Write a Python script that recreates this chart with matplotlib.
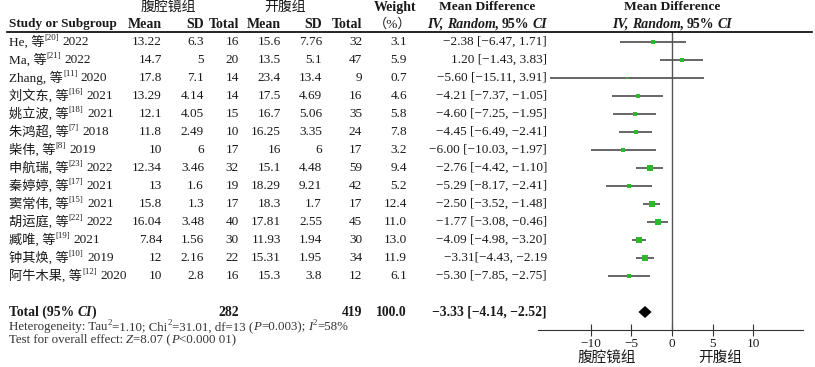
import matplotlib
matplotlib.use('Agg')
import matplotlib.pyplot as plt
from matplotlib.lines import Line2D

plt.rcParams['font.family'] = ['Liberation Serif', 'Noto Sans CJK SC']
plt.rcParams['font.size'] = 9.5

# --- données ---
authors = ['He', 'Ma', 'Zhang', '刘文东', '姚立波', '朱鸿超', '柴伟', '申航瑞',
           '秦婷婷', '窦常伟', '胡运庭', '臧唯', '钟其焕', '阿牛木果']
refs = ['20', '21', '11', '16', '18', '7', '8', '23', '17', '15', '22', '19', '10', '12']
years = [2022, 2022, 2020, 2021, 2021, 2018, 2019, 2022, 2021, 2021, 2022, 2021, 2019, 2020]

lap_mean = [13.22, 14.7, 17.8, 13.29, 12.1, 11.8, 10, 12.34, 13, 15.8, 16.04, 7.84, 12, 10]
lap_sd = [6.3, 5, 7.1, 4.14, 4.05, 2.49, 6, 3.46, 1.6, 1.3, 3.48, 1.56, 2.16, 2.8]
lap_n = [16, 20, 14, 14, 15, 10, 17, 32, 19, 17, 40, 30, 22, 16]

open_mean = [15.6, 13.5, 23.4, 17.5, 16.7, 16.25, 16, 15.1, 18.29, 18.3, 17.81, 11.93, 15.31, 15.3]
open_sd = [7.76, 5.1, 13.4, 4.69, 5.06, 3.35, 6, 4.48, 9.21, 1.7, 2.55, 1.94, 1.95, 3.8]
open_n = [32, 47, 9, 16, 35, 24, 17, 59, 42, 17, 45, 30, 34, 12]

weights = [3.1, 5.9, 0.7, 4.6, 5.8, 7.8, 3.2, 9.4, 5.2, 12.4, 11.0, 13.0, 11.9, 6.1]
md = [-2.38, 1.20, -5.60, -4.21, -4.60, -4.45, -6.00, -2.76, -5.29, -2.50, -1.77, -4.09, -3.31, -5.30]
ci_lo = [-6.47, -1.43, -15.11, -7.37, -7.25, -6.49, -10.03, -4.42, -8.17, -3.52, -3.08, -4.98, -4.43, -7.85]
ci_hi = [1.71, 3.83, 3.91, -1.05, -1.95, -2.41, -1.97, -1.10, -2.41, -1.48, -0.46, -3.20, -2.19, -2.75]

total_lap = 282
total_open = 419
total_weight = 100.0
total_md = -3.33
total_lo = -4.14
total_hi = -2.52

xticks = [-10, -5, 0, 5, 10]

W, H = 815, 367
TXT = '#1a1a1a'
GREEN = '#2db82d'

fig = plt.figure(figsize=(W / 100, H / 100), dpi=100)
renderer = fig.canvas.get_renderer()


def pos(x, y):
    return x / W, 1 - y / H


def text(x, y, s, ha='left', **kw):
    kw.setdefault('color', TXT)
    return fig.text(*pos(x, y), s, ha=ha, va='center', **kw)


def minus(v, fmt):
    return format(v, fmt).replace('-', '−')


def segments(x, y, parts, ha='left', **kw):
    # parts : (texte, options, décalage avant en px)
    items = []
    for s, opts, gap in parts:
        opts = dict(opts)
        dy = opts.pop('dy', 0)
        o = dict(kw)
        o.update(opts)
        o.setdefault('color', TXT)
        t = fig.text(0, 0, s, va='center', ha='left', **o)
        w = t.get_window_extent(renderer).width
        items.append((t, w, gap, dy))
    total = sum(w + g for _, w, g, _ in items)
    cur = x if ha == 'left' else (x - total if ha == 'right' else x - total / 2)
    for t, w, gap, dy in items:
        cur += gap
        t.set_position(pos(cur, y + dy))
        cur += w


SUP = dict(fontsize=6.3, dy=-4)
HB = dict(fontweight='bold', fontsize=10)
HBI = dict(fontweight='bold', fontstyle='italic', fontsize=10)
B = dict(fontweight='bold', fontsize=9.8)
BI = dict(fontweight='bold', fontstyle='italic', fontsize=9.8)
I = dict(fontstyle='italic')

# colonnes (bord droit)
c_mean1, c_sd1, c_n1 = 162, 204, 239
c_mean2, c_sd2, c_n2 = 281, 322, 362
c_w, c_md = 407, 547

# en-têtes
text(168, 7, '腹腔镜组', ha='center', fontsize=10)
text(285, 7, '开腹组', ha='center', fontsize=10)
text(9, 24, 'Study or Subgroup', fontweight='bold', fontsize=9.5)
for x, s in [(c_mean1, 'Mean'), (c_sd1, 'SD'), (c_n1, 'Total'),
             (c_mean2, 'Mean'), (c_sd2, 'SD'), (c_n2, 'Total')]:
    text(x, 24, s, ha='right', **HB)
text(395, 7, 'Weight', ha='center', **HB)
text(393, 24, '（%）', ha='center', fontsize=9.5)
for cx in (487, 672):
    text(cx, 7, 'Mean Difference', ha='center', fontweight='bold', fontsize=9.7)
    segments(cx, 24, [('IV,', HBI, 0), ('Random', HBI, 3), (',', HB, 0),
                      ('95%', HB, 3), ('CI', HBI, 3)], ha='center')

fig.add_artist(Line2D([7 / W, 812 / W], [1 - 32 / H] * 2, color='black', lw=1.2))

# lignes des études
row_y = [42 + 18 * i for i in range(len(authors))]
for i, y in enumerate(row_y):
    segments(9, y, [(authors[i] + ', 等', {}, 0), ('[' + refs[i] + ']', SUP, 0),
                    (str(years[i]), {}, 3.5)])
    text(c_mean1, y, format(lap_mean[i], 'g'), ha='right')
    text(c_sd1, y, format(lap_sd[i], 'g'), ha='right')
    text(c_n1, y, str(lap_n[i]), ha='right')
    text(c_mean2, y, format(open_mean[i], 'g'), ha='right')
    text(c_sd2, y, format(open_sd[i], 'g'), ha='right')
    text(c_n2, y, str(open_n[i]), ha='right')
    text(c_w, y, format(weights[i], '.1f'), ha='right')
    label = '%s [%s, %s]' % (minus(md[i], '.2f'), minus(ci_lo[i], '.2f'), minus(ci_hi[i], '.2f'))
    if i == 12:
        # tel quel dans l'original
        label = '%s[%s, %s' % (minus(md[i], '.2f'), minus(ci_lo[i], '.2f'), minus(ci_hi[i], '.2f'))
    text(c_md, y, label, ha='right')

# ligne totale
y_tot = 42 + 18 * 15
segments(9, y_tot, [('Total (95%', B, 0), ('CI', BI, 3), (')', B, 0)])
text(c_n1, y_tot, str(total_lap), ha='right', **B)
text(c_n2, y_tot, str(total_open), ha='right', **B)
text(c_w, y_tot, format(total_weight, '.1f'), ha='right', **B)
text(c_md, y_tot, '%s [%s, %s]' % (minus(total_md, '.2f'), minus(total_lo, '.2f'),
                                   minus(total_hi, '.2f')), ha='right', **B)

FOOT = dict(fontsize=9.3, color='#333333')
segments(9, 327, [('Heterogeneity: Tau', {}, 0), ('2', SUP, 0.3), ('=1.10; Chi', {}, 0),
                  ('2', SUP, 0.3), ('=31.01, df=13 (', {}, 0), ('P', I, 0),
                  ('=0.003);', {}, 0), ('I', I, 3), ('2', SUP, 0.3), ('=58%', {}, 0)], **FOOT)
segments(9, 340, [('Test for overall effect:', {}, 0), ('Z', I, 3), ('=8.07 (', {}, 0),
                  ('P', I, 0), ('<0.000 01)', {}, 0)], **FOOT)

# forest plot
ax = fig.add_axes([538 / W, 1 - 330 / H, (803 - 538) / W, (330 - 32) / H])
ax.set_xlim(-16.54, 16.17)
ax.set_ylim(330, 32)
ax.hlines(row_y, ci_lo, ci_hi, color='#5a5a5a', lw=1.3)
for i, y in enumerate(row_y):
    side = 1.5 + 1.2 * weights[i] ** 0.5
    ax.plot(md[i], y, 's', color=GREEN, ms=side * 0.72, mew=0)
ax.fill([total_lo, total_md, total_hi, total_md], [y_tot, y_tot - 6, y_tot, y_tot + 6],
        color='black', lw=0)
ax.axvline(0, color='#555555', lw=1)
for s in ['top', 'left', 'right']:
    ax.spines[s].set_visible(False)
ax.spines['bottom'].set_color('#333333')
ax.set_yticks([])
ax.set_xticks(xticks)
ax.set_xticklabels([minus(t, 'd') for t in xticks])
ax.tick_params(axis='x', direction='inout', length=8, width=0.8, color='#333333',
               labelsize=9.5, labelcolor=TXT, pad=2)
ax.patch.set_visible(False)

text(607, 358, '腹腔镜组', ha='center', fontsize=10.5)
text(720, 358, '开腹组', ha='center', fontsize=10.5)

fig.savefig('out.png', dpi=100)
